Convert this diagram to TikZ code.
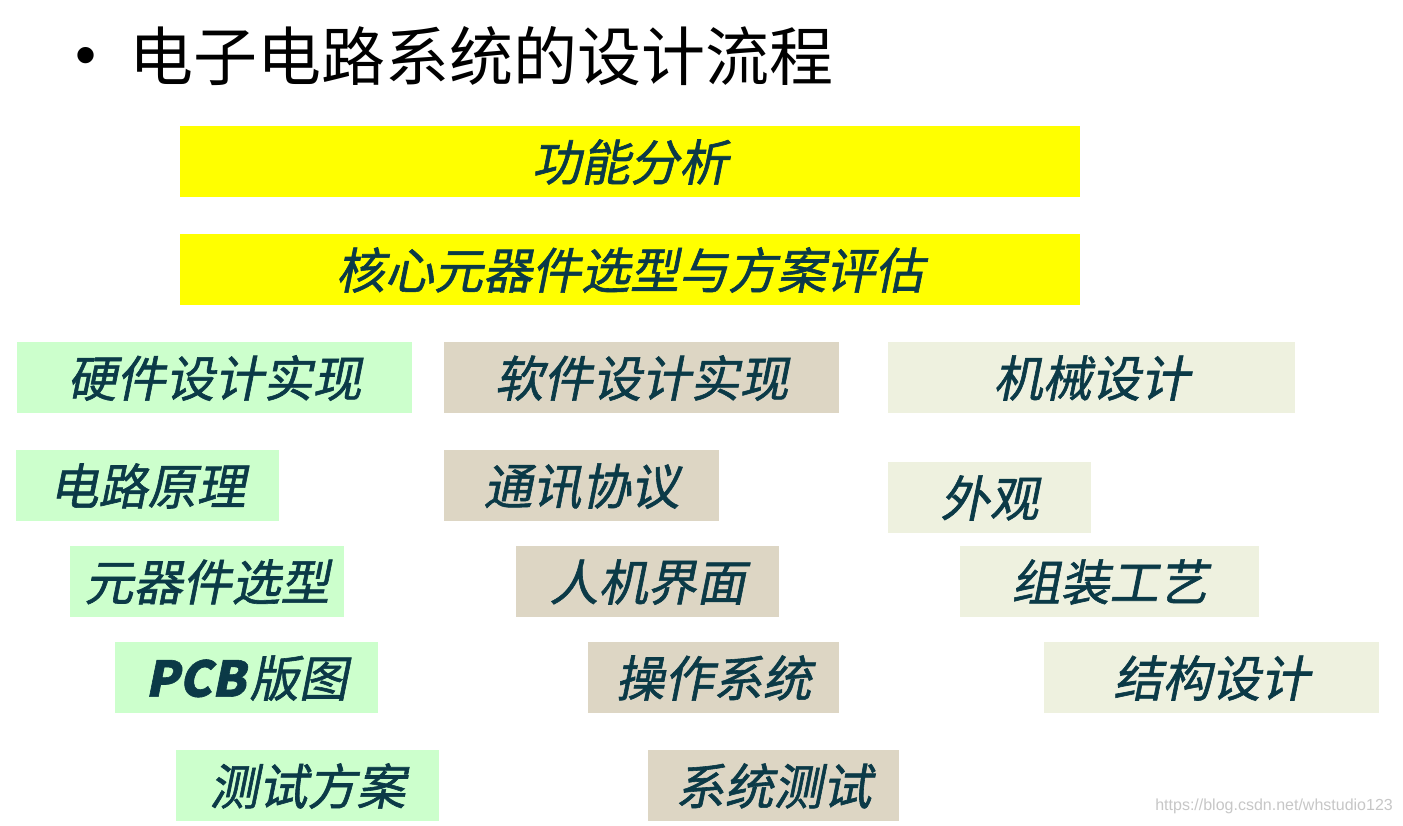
\documentclass[tikz,border=0pt]{standalone}
\usepackage{fontspec}
\newfontfamily\cjk{Noto Sans CJK SC}
\newfontfamily\cjksl[FakeSlant=0.2,FakeBold=1.2]{Noto Sans CJK SC}
\newfontfamily\wmfont{Liberation Sans}
\definecolor{ybox}{HTML}{FFFF00}
\definecolor{gbox}{HTML}{CCFFCC}
\definecolor{tbox}{HTML}{DDD6C4}
\definecolor{lbox}{HTML}{EEF1DF}
\definecolor{txt}{HTML}{0B3A47}
\tikzset{
  box/.style={rectangle, inner sep=0pt, minimum height=71pt, text=txt,
    font=\cjksl\fontsize{49}{49}\selectfont, text depth=3pt},
  ybx/.style={box, fill=ybox},
  gbx/.style={box, fill=gbox},
  tbx/.style={box, fill=tbox},
  lbx/.style={box, fill=lbox},
}
\begin{document}
\begin{tikzpicture}[x=1pt,y=-1pt]
\useasboundingbox[fill=white] (0,0) rectangle (1403,825);
% title
\node[inner sep=0pt, font=\wmfont\fontsize{60}{60}\selectfont] (bullet) at (86,61) {•};
\node[inner sep=0pt, anchor=west, font=\cjk\fontsize{64}{64}\selectfont] (title) at (129,56) {电子电路系统的设计流程};
% top boxes
\node[ybx, minimum width=900pt] (f1) at (630,161.5) {功能分析};
\node[ybx, minimum width=900pt] (f2) at (630,269.5) {核心元器件选型与方案评估};
% hardware
\node[gbx, minimum width=395pt] (h1) at (214.5,377.5) {硬件设计实现};
\node[gbx, minimum width=263pt] (h2) at (147.5,485.5) {电路原理};
\node[gbx, minimum width=274pt] (h3) at (207,581.5) {元器件选型};
\node[gbx, minimum width=263pt] (h4) at (246.5,677.5) {{\bfseries PCB}\kern4pt版图};
\node[gbx, minimum width=263pt] (h5) at (307.5,785.5) {测试方案};
% software
\node[tbx, minimum width=395pt] (s1) at (641.5,377.5) {软件设计实现};
\node[tbx, minimum width=275pt] (s2) at (581.5,485.5) {通讯协议};
\node[tbx, minimum width=263pt] (s3) at (647.5,581.5) {人机界面};
\node[tbx, minimum width=251pt] (s4) at (713.5,677.5) {操作系统};
\node[tbx, minimum width=251pt] (s5) at (773.5,785.5) {系统测试};
% mechanical
\node[lbx, minimum width=407pt] (m1) at (1091.5,377.5) {机械设计};
\node[lbx, minimum width=203pt] (m2) at (989.5,497.5) {外观};
\node[lbx, minimum width=299pt] (m3) at (1109.5,581.5) {组装工艺};
\node[lbx, minimum width=335pt] (m4) at (1211.5,677.5) {结构设计};
% watermark
\node[inner sep=0pt, anchor=east, text=black!22, font=\wmfont\fontsize{16}{16}\selectfont] (wm) at (1393,806) {https://blog.csdn.net/whstudio123};
\end{tikzpicture}
\end{document}
